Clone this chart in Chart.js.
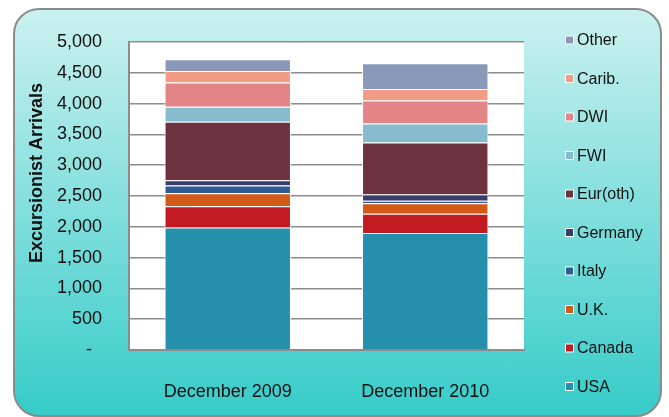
<!DOCTYPE html>
<html>
<head>
<meta charset="utf-8">
<script src="https://cdn.jsdelivr.net/npm/chart.js@4"></script>
<style>
    html, body { margin: 0; padding: 0; background: #fff; }
    #wrap { position: relative; width: 669px; height: 417px; overflow: hidden; }
    #frame {
        position: absolute; left: 13px; top: 8px; width: 645px; height: 405px;
        border: 2px solid #8c8c8c; border-radius: 26px;
        background: linear-gradient(#cbf1f0, #36ccc9);
    }
    #myChart { position: absolute; left: 0; top: 0; }
</style>
</head>
<body>
<div id="wrap">
    <div id="frame"></div>
    <canvas id="myChart" width="669" height="417"></canvas>
</div>
<script>
const categories = ["December 2009", "December 2010"];
const seriesNames = ["USA", "Canada", "U.K.", "Italy", "Germany", "Eur(oth)", "FWI", "DWI", "Carib.", "Other"];
const usa = [1990, 1900];
const canada = [345, 311];
const uk = [210, 170];
const italy = [125, 40];
const germany = [85, 103];
const eurOther = [950, 845];
const fwi = [245, 308];
const dwi = [393, 373];
const carib = [186, 187];
const other = [190, 417];
const yTicks = [0, 500, 1000, 1500, 2000, 2500, 3000, 3500, 4000, 4500, 5000];
const yTitle = 'Excursionist Arrivals';

const seriesValues = [usa, canada, uk, italy, germany, eurOther, fwi, dwi, carib, other];
const colors = ['#268fac', '#c11a22', '#d25a18', '#2f5a94', '#3a3d6b', '#6d323f', '#86bccd', '#e38487', '#f29c86', '#8a98ba'];

const font = "'Liberation Sans', Arial, sans-serif";

const plotBackground = {
    id: 'plotBackground',
    beforeDraw(chart) {
        const { ctx, chartArea: a } = chart;
        ctx.save();
        ctx.fillStyle = '#ffffff';
        ctx.fillRect(a.left, a.top, a.right - a.left, a.bottom - a.top);
        ctx.restore();
    }
};

// axis title sits a bit above the plot centre, as in the original
const axisTitle = {
    id: 'axisTitle',
    afterDraw(chart) {
        const ctx = chart.ctx;
        ctx.save();
        ctx.translate(37, 173);
        ctx.rotate(-Math.PI / 2);
        ctx.font = `bold 18px ${font}`;
        ctx.fillStyle = '#111111';
        ctx.textAlign = 'center';
        ctx.textBaseline = 'middle';
        ctx.fillText(yTitle, 0, 0);
        ctx.restore();
    }
};

// legend on the right, top item = last series
const sideLegend = {
    id: 'sideLegend',
    afterDraw(chart) {
        const ctx = chart.ctx;
        const sets = chart.data.datasets.slice().reverse();
        ctx.save();
        ctx.font = `16px ${font}`;
        ctx.textBaseline = 'middle';
        sets.forEach((ds, i) => {
            const y = 40 + i * 38.5;
            ctx.fillStyle = '#ffffff';
            ctx.fillRect(565, y - 4.5, 9, 9);
            ctx.fillStyle = ds.backgroundColor;
            ctx.fillRect(566, y - 3.5, 7, 7);
            ctx.fillStyle = '#111111';
            ctx.fillText(ds.label, 577, y + 1);
        });
        ctx.restore();
    }
};

const ctx = document.getElementById('myChart').getContext('2d');
new Chart(ctx, {
    type: 'bar',
    data: {
        labels: categories,
        datasets: seriesNames.map((name, i) => ({
            label: name,
            data: seriesValues[i],
            backgroundColor: colors[i],
            borderColor: '#ffffff',
            borderWidth: 1,
            barPercentage: 0.64,
            categoryPercentage: 1
        }))
    },
    options: {
        responsive: false,
        animation: false,
        layout: { padding: { left: 0, top: 42, right: 145, bottom: 0 } },
        plugins: {
            legend: { display: false },
            tooltip: { enabled: false }
        },
        scales: {
            x: {
                stacked: true,
                afterFit: s => { s.height = 67; },
                grid: { display: false },
                border: { display: true, color: '#8c8c8c', width: 2 },
                ticks: { color: '#111', padding: 23, font: { family: font, size: 18 } }
            },
            y: {
                stacked: true,
                min: 0,
                max: 5000,
                afterFit: s => { s.width = 129; },
                afterBuildTicks: s => { s.ticks = yTicks.map(v => ({ value: v })); },
                grid: { color: '#8c8c8c', lineWidth: 1.5, drawTicks: false },
                border: { display: true, color: '#8c8c8c', width: 2 },
                ticks: {
                    color: '#111',
                    padding: 27,
                    font: { family: font, size: 18 },
                    callback: v => v === 0 ? '-  ' : v.toLocaleString('en-US')
                }
            }
        }
    },
    plugins: [plotBackground, axisTitle, sideLegend]
});
</script>
</body>
</html>
